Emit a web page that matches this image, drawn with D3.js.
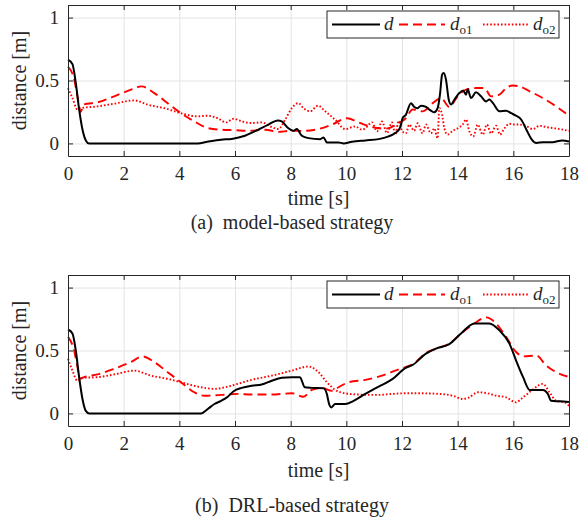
<!DOCTYPE html>
<html>
<head>
<meta charset="utf-8">
<script src="https://cdn.jsdelivr.net/npm/d3@7"></script>
<style>
  body { margin: 0; background: #fff; }
  svg { display: block; }
  text { font-family: "Liberation Serif", "DejaVu Serif", serif; fill: #262626; }
</style>
</head>
<body>
<div id="chart"></div>
<script>
// Données : [temps (s), distance (m)]
const xTicks = [0, 2, 4, 6, 8, 10, 12, 14, 16, 18];
const yTicks = [0, 0.5, 1];
const seriesNames = ["d", "o1", "o2"];
const captions = ["(a)\u2002model-based strategy", "(b)\u2002DRL-based strategy"];

// (a) model-based
const modelD = [[0,0.666],[0.16,0.63],[0.28,0.48],[0.4,0.27],[0.52,0.11],[0.64,0.024],[0.76,0],[4.66,0],[5.0,0.013],[5.5,0.03],[5.88,0.036],[6.36,0.061],[6.84,0.11],[7.2,0.15],[7.54,0.183],[7.68,0.175],[7.92,0.12],[8.1,0.10],[8.22,0.114],[8.4,0.061],[8.64,0.042],[9.06,0.034],[9.18,0.048],[9.3,0.008],[9.72,0.008],[9.9,0],[10.2,0.013],[10.68,0.024],[11.16,0.034],[11.52,0.056],[11.76,0.082],[11.94,0.13],[12.02,0.2],[12.14,0.228],[12.32,0.32],[12.44,0.29],[12.56,0.28],[12.68,0.30],[12.86,0.29],[13.04,0.26],[13.16,0.247],[13.28,0.28],[13.37,0.40],[13.44,0.546],[13.5,0.56],[13.58,0.507],[13.68,0.347],[13.76,0.31],[13.88,0.347],[14.06,0.40],[14.2,0.42],[14.3,0.387],[14.36,0.43],[14.48,0.36],[14.66,0.406],[14.84,0.374],[15.02,0.334],[15.14,0.35],[15.27,0.32],[15.5,0.255],[15.74,0.26],[15.92,0.24],[16.1,0.22],[16.28,0.19],[16.47,0.109],[16.65,0.034],[16.83,0.003],[17.06,0.01],[17.4,0.01],[17.76,0.024],[18,0.016]];
const modelDo1 = [[0,0.61],[0.22,0.51],[0.34,0.374],[0.45,0.25],[0.58,0.31],[1.06,0.326],[1.66,0.374],[2.26,0.427],[2.64,0.453],[3.1,0.40],[3.58,0.32],[4.06,0.24],[4.54,0.175],[5.02,0.122],[5.5,0.109],[6.0,0.105],[6.48,0.10],[7.08,0.109],[7.56,0.092],[7.98,0.10],[8.52,0.10],[9.0,0.114],[9.48,0.149],[10.02,0.20],[10.44,0.167],[10.92,0.13],[11.4,0.117],[11.88,0.16],[12.14,0.2],[12.38,0.27],[12.74,0.255],[13.1,0.32],[13.4,0.36],[13.7,0.29],[14.0,0.374],[14.3,0.427],[14.66,0.44],[14.96,0.44],[15.2,0.374],[15.5,0.387],[15.74,0.44],[15.98,0.46],[16.2,0.454],[16.59,0.414],[17.06,0.36],[17.54,0.294],[18,0.22]];
const modelDo2 = [[0,0.44],[0.16,0.36],[0.34,0.27],[0.46,0.28],[1.06,0.294],[1.66,0.316],[2.38,0.342],[2.86,0.308],[3.46,0.28],[4.06,0.24],[4.66,0.215],[5.02,0.22],[5.38,0.2],[5.68,0.167],[5.95,0.196],[6.24,0.175],[6.6,0.162],[6.96,0.167],[7.32,0.13],[7.56,0.114],[7.8,0.188],[8.04,0.28],[8.28,0.32],[8.46,0.28],[8.7,0.255],[8.98,0.30],[9.24,0.255],[9.6,0.188],[9.96,0.114],[10.32,0.135],[10.56,0.109],[10.68,0.12],[10.92,0.167],[11.1,0.095],[11.28,0.175],[11.46,0.082],[11.64,0.167],[11.76,0.069],[11.88,0.18],[12.0,0.1],[12.14,0.08],[12.26,0.15],[12.44,0.1],[12.56,0.16],[12.74,0.08],[12.86,0.15],[13.04,0.08],[13.16,0.12],[13.28,0.04],[13.34,0.28],[13.44,0.23],[13.52,0.12],[13.64,0.07],[13.82,0.1],[14.0,0.12],[14.18,0.15],[14.3,0.19],[14.42,0.095],[14.56,0.055],[14.72,0.15],[14.9,0.07],[15.05,0.15],[15.2,0.08],[15.38,0.14],[15.52,0.07],[15.68,0.12],[15.86,0.156],[16.04,0.15],[16.2,0.15],[16.44,0.14],[16.7,0.114],[16.94,0.14],[17.18,0.13],[17.42,0.122],[17.66,0.114],[18,0.1]];

// (b) DRL-based
const drlD = [[0,0.667],[0.16,0.635],[0.28,0.50],[0.4,0.288],[0.52,0.115],[0.64,0.02],[0.76,0],[4.78,0],[5.02,0.035],[5.26,0.075],[5.5,0.10],[5.74,0.133],[5.95,0.176],[6.24,0.203],[6.6,0.22],[6.96,0.23],[7.32,0.26],[7.68,0.283],[8.04,0.288],[8.34,0.288],[8.42,0.248],[8.5,0.208],[8.76,0.203],[9.18,0.2],[9.3,0.155],[9.38,0.075],[9.46,0.048],[9.6,0.075],[9.96,0.075],[10.26,0.10],[10.68,0.155],[11.16,0.213],[11.64,0.27],[12.12,0.36],[12.38,0.385],[12.86,0.475],[13.22,0.515],[13.7,0.55],[14.12,0.635],[14.6,0.715],[15.14,0.715],[15.5,0.66],[15.86,0.555],[16.1,0.42],[16.35,0.288],[16.59,0.187],[17.06,0.187],[17.24,0.155],[17.36,0.10],[17.66,0.096],[18,0.09]];
const drlDo1 = [[0,0.608],[0.22,0.50],[0.34,0.368],[0.43,0.275],[0.58,0.288],[1.06,0.31],[1.66,0.355],[2.26,0.408],[2.68,0.453],[3.1,0.408],[3.58,0.328],[4.06,0.248],[4.54,0.168],[4.9,0.14],[5.5,0.147],[6.1,0.155],[6.6,0.15],[7.32,0.15],[8.04,0.16],[8.46,0.133],[8.76,0.187],[9.12,0.203],[9.48,0.18],[9.72,0.208],[10.08,0.248],[10.68,0.267],[11.28,0.30],[11.76,0.34],[12.12,0.368],[12.38,0.39],[12.86,0.48],[13.22,0.515],[13.7,0.555],[14.12,0.635],[14.6,0.715],[15.02,0.763],[15.38,0.715],[15.74,0.608],[16.1,0.488],[16.35,0.453],[16.83,0.46],[17.18,0.38],[17.54,0.328],[18,0.29]];
const drlDo2 = [[0,0.435],[0.16,0.34],[0.34,0.26],[0.52,0.283],[1.06,0.288],[1.66,0.31],[2.38,0.34],[2.98,0.30],[3.58,0.275],[4.18,0.24],[4.78,0.208],[5.26,0.195],[5.74,0.213],[6.1,0.235],[6.6,0.267],[7.32,0.30],[8.04,0.34],[8.64,0.373],[9.0,0.328],[9.3,0.248],[9.6,0.187],[9.96,0.16],[10.44,0.15],[11.16,0.147],[11.64,0.155],[12.12,0.16],[12.62,0.16],[13.34,0.155],[13.82,0.141],[14.18,0.115],[14.42,0.128],[14.72,0.168],[15.08,0.16],[15.38,0.141],[15.74,0.128],[16.1,0.088],[16.28,0.115],[16.65,0.181],[17.06,0.235],[17.3,0.168],[17.54,0.10],[17.84,0.088],[18,0.061]];

const panels = [
  { top: 5, data: [modelD, modelDo1, modelDo2], caption: captions[0], labelDy: 49, capDy: 73 },
  { top: 275, data: [drlD, drlDo1, drlDo2], caption: captions[1], labelDy: 51, capDy: 86 }
];

const styles = [
  { color: "#000", width: 2, dash: null },
  { color: "#ff0000", width: 1.9, dash: "9,5" },
  { color: "#ff0000", width: 1.9, dash: "1.6,2" }
];

const W = 579, H = 520;
const left = 68, right = 569, plotH = 151;

const svg = d3.select("#chart").append("svg")
  .attr("width", W).attr("height", H);

const x = d3.scaleLinear().domain([0, 18]).range([left, right]);

panels.forEach((p, i) => {
  const y = d3.scaleLinear().domain([-0.1, 1.1]).range([p.top + plotH, p.top]);
  const g = svg.append("g");

  // grille
  g.append("g")
    .attr("transform", `translate(0,${p.top + plotH})`)
    .call(d3.axisBottom(x).tickValues(xTicks).tickSize(-plotH).tickFormat(""))
    .call(s => s.select(".domain").remove())
    .call(s => s.selectAll("line").attr("stroke", "#e3e3e3").attr("stroke-width", 1));
  g.append("g")
    .attr("transform", `translate(${left},0)`)
    .call(d3.axisLeft(y).tickValues(yTicks).tickSize(-(right - left)).tickFormat(""))
    .call(s => s.select(".domain").remove())
    .call(s => s.selectAll("line").attr("stroke", "#e3e3e3").attr("stroke-width", 1));

  // courbes
  const line = d3.line()
    .x(d => x(d[0]))
    .y(d => y(d[1]))
    .curve(d3.curveMonotoneX);

  p.data.forEach((serie, k) => {
    g.append("path")
      .datum(serie)
      .attr("fill", "none")
      .attr("stroke", styles[k].color)
      .attr("stroke-width", styles[k].width)
      .attr("stroke-dasharray", styles[k].dash)
      .attr("stroke-linejoin", "round")
      .attr("d", line);
  });
  // la courbe d par-dessus
  g.select("path:nth-of-type(1)").raise();

  // axes (ticks vers l'intérieur)
  const styleAxis = s => {
    s.select(".domain").attr("stroke", "#262626").attr("stroke-width", 1);
    s.selectAll(".tick line").attr("stroke", "#262626");
    s.selectAll("text").attr("font-family", "Liberation Serif").attr("font-size", 19).attr("fill", "#262626");
  };
  g.append("g")
    .attr("transform", `translate(0,${p.top + plotH})`)
    .call(d3.axisBottom(x).tickValues(xTicks).tickSizeInner(-5).tickSizeOuter(0).tickPadding(11))
    .call(styleAxis);
  g.append("g")
    .attr("transform", `translate(0,${p.top})`)
    .call(d3.axisTop(x).tickValues(xTicks).tickSizeInner(-5).tickSizeOuter(0).tickFormat(""))
    .call(styleAxis);
  g.append("g")
    .attr("transform", `translate(${left},0)`)
    .call(d3.axisLeft(y).tickValues(yTicks).tickSizeInner(-5).tickSizeOuter(0).tickPadding(9)
      .tickFormat(d => d === 0.5 ? "0.5" : d3.format("d")(d)))
    .call(styleAxis);
  g.append("g")
    .attr("transform", `translate(${right},0)`)
    .call(d3.axisRight(y).tickValues(yTicks).tickSizeInner(-5).tickSizeOuter(0).tickFormat(""))
    .call(styleAxis);

  // titres des axes
  g.append("text")
    .attr("x", (left + right) / 2)
    .attr("y", p.top + plotH + p.labelDy)
    .attr("text-anchor", "middle")
    .attr("font-size", 20)
    .text("time [s]");
  g.append("text")
    .attr("transform", `translate(26,${p.top + plotH / 2}) rotate(-90)`)
    .attr("text-anchor", "middle")
    .attr("font-size", 20)
    .text("distance [m]");

  // légende
  const lg = g.append("g").attr("transform", `translate(327,${p.top + 6})`);
  lg.append("rect")
    .attr("width", 232).attr("height", 27)
    .attr("fill", "#fff").attr("stroke", "#262626").attr("stroke-width", 1);
  const items = [
    { x0: 5, x1: 53, tx: 57 },
    { x0: 72, x1: 118, tx: 123 },
    { x0: 156, x1: 202, tx: 206 }
  ];
  items.forEach((it, k) => {
    lg.append("line")
      .attr("x1", it.x0).attr("x2", it.x1)
      .attr("y1", 13.5).attr("y2", 13.5)
      .attr("stroke", styles[k].color)
      .attr("stroke-width", styles[k].width)
      .attr("stroke-dasharray", styles[k].dash);
    const t = lg.append("text")
      .attr("x", it.tx).attr("y", 19)
      .attr("font-size", 19);
    t.append("tspan").attr("font-style", "italic").text("d");
    if (seriesNames[k] !== "d") {
      t.append("tspan")
        .attr("font-size", 13)
        .attr("dy", 4)
        .text(seriesNames[k]);
    }
  });

  // légende de la sous-figure
  g.append("text")
    .attr("x", 292)
    .attr("y", p.top + plotH + p.capDy)
    .attr("text-anchor", "middle")
    .attr("font-size", 20)
    .text(p.caption);
});
</script>
</body>
</html>
